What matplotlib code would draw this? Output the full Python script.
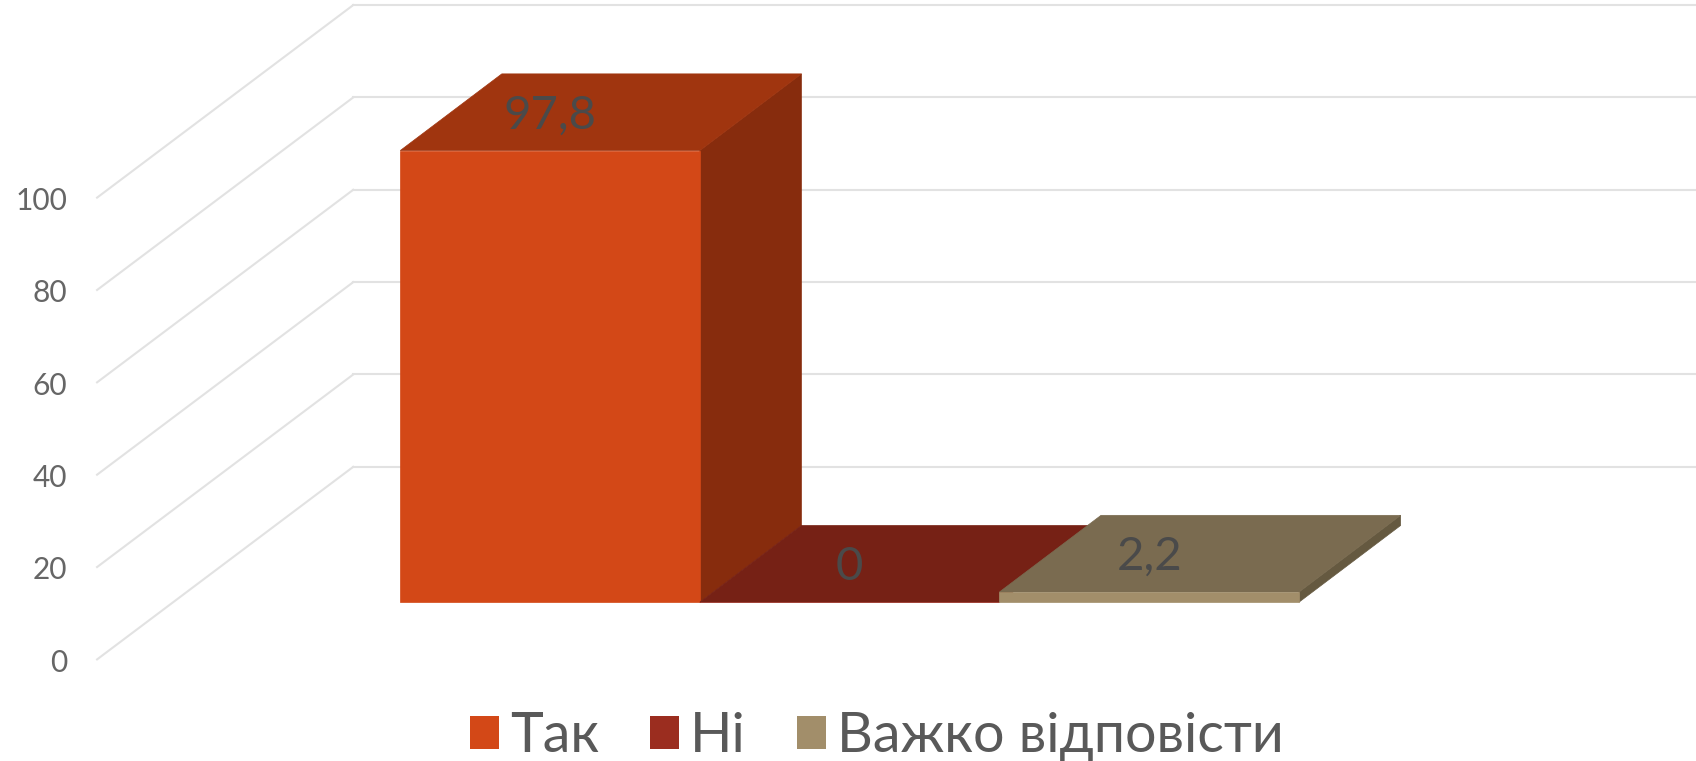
import matplotlib
matplotlib.use('Agg')
import matplotlib.pyplot as plt
from matplotlib.patches import Patch, Polygon

# Data
categories = ['Так', 'Ні', 'Важко відповісти']
values = [97.8, 0, 2.2]
value_labels = ['97,8', '0', '2,2']
ticks = [0, 20, 40, 60, 80, 100]

# Face colours: front, top, side
front_cols = ['#D34817', '#9B2D1F', '#A28E6A']
top_cols = ['#A0350F', '#762115', '#7A6B50']
side_cols = ['#872C0D', '#5F1A14', '#655940']

plt.rcParams['font.family'] = ['Lato', 'DejaVu Sans']

fig = plt.figure(figsize=(16.96, 7.61), dpi=100)
ax = fig.add_axes([0, 0, 1, 1])
ax.set_xlim(-1.836, 3.825)
ax.set_ylim(-34.4, 130.4)
ax.axis('off')

# Depth offsets, in axis units
bar_dx, bar_dy = 0.339, 16.6
back_dx, back_dy = 0.60, 29.3
front_dx, front_dy = 0.255, 12.4
left = -1.257           # left edge of the floor, at bar plane
grid_col = '#E2E2E2'

# Walls: gridlines along back and diagonals on the side
for t in ticks:
    ax.plot([left - front_dx, left + back_dx], [t - front_dy, t + back_dy], color=grid_col, lw=1.5, zorder=1)
    ax.plot([left + back_dx, 3.9], [t + back_dy, t + back_dy], color=grid_col, lw=1.5, zorder=1)
    ax.text(left - front_dx - 0.1, t - front_dy - 0.7, str(t), ha='right', va='center', fontsize=21.5, color='#666666')

# Bars
for i, v in enumerate(values):
    x0, x1 = i - 0.5, i + 0.5
    ax.add_patch(Polygon([(x1, 0), (x1 + bar_dx, bar_dy), (x1 + bar_dx, v + bar_dy), (x1, v)], fc=side_cols[i], ec=side_cols[i], lw=0.5, zorder=2 + i))
    ax.add_patch(Polygon([(x0, v), (x1, v), (x1 + bar_dx, v + bar_dy), (x0 + bar_dx, v + bar_dy)], fc=top_cols[i], ec=top_cols[i], lw=0.5, zorder=2 + i))
    ax.add_patch(Polygon([(x0, 0), (x1, 0), (x1, v), (x0, v)], fc=front_cols[i], ec=front_cols[i], lw=0.5, zorder=2 + i))
    ax.text(i, v + bar_dy * 0.5 - 0.7, value_labels[i], ha='center', va='center', fontsize=34, color='#4A4A4A', zorder=10)

handles = [Patch(fc=c, ec='none') for c in front_cols]
ax.legend(handles, categories, loc='lower center', bbox_to_anchor=(0.517, -0.038), ncol=3, frameon=False, fontsize=40,
          labelcolor='#595959', handlelength=0.52, handleheight=0.52, handletextpad=0.2, columnspacing=0.92, borderpad=0.0)

fig.savefig('out.png', dpi=100)
